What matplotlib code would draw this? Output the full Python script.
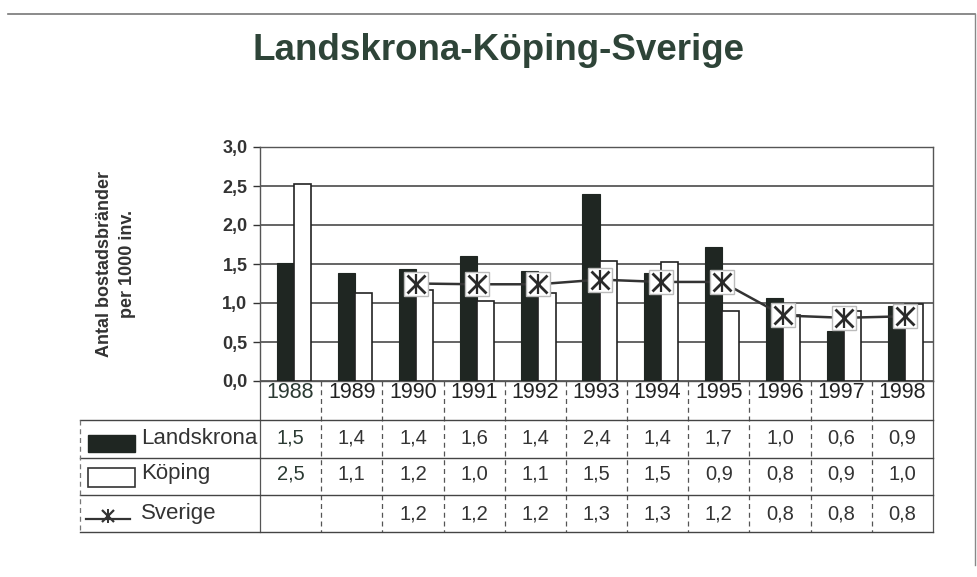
import matplotlib
matplotlib.use("Agg")
import matplotlib.pyplot as plt
from matplotlib.patches import Rectangle
from matplotlib.lines import Line2D
import matplotlib.transforms as mtransforms
import numpy as np

plt.rcParams['font.family'] = ['Liberation Sans', 'DejaVu Sans']

years = ['1988', '1989', '1990', '1991', '1992', '1993', '1994', '1995', '1996', '1997', '1998']
landskrona = [1.51, 1.38, 1.44, 1.60, 1.41, 2.40, 1.38, 1.72, 1.06, 0.64, 0.96]
koping = [2.53, 1.13, 1.17, 1.02, 1.13, 1.54, 1.52, 0.90, 0.84, 0.90, 0.99]
sverige = [None, None, 1.25, 1.24, 1.24, 1.30, 1.27, 1.27, 0.84, 0.81, 0.83]
tab_landskrona = ['1,5', '1,4', '1,4', '1,6', '1,4', '2,4', '1,4', '1,7', '1,0', '0,6', '0,9']
tab_koping = ['2,5', '1,1', '1,2', '1,0', '1,1', '1,5', '1,5', '0,9', '0,8', '0,9', '1,0']
tab_sverige = ['', '', '1,2', '1,2', '1,2', '1,3', '1,3', '1,2', '0,8', '0,8', '0,8']
yticks = [0.0, 0.5, 1.0, 1.5, 2.0, 2.5, 3.0]
ytick_labels = ['0,0', '0,5', '1,0', '1,5', '2,0', '2,5', '3,0']

W, H = 978, 577
fig = plt.figure(figsize=(W / 100, H / 100), dpi=100)
fig.patch.set_facecolor('white')

ax = fig.add_axes([260 / W, 1 - 381 / H, (933 - 260) / W, (381 - 147) / H])
x = np.arange(len(years))
bw = 0.28
off = 0.05
dark = '#1f2622'
ax.bar(x - bw / 2 + off, landskrona, width=bw, color=dark, edgecolor=dark, linewidth=0.8, zorder=3)
ax.bar(x + bw / 2 + off, koping, width=bw, color='white', edgecolor='#222222', linewidth=1.2, zorder=3)

sx = [xi + off for xi, v in zip(x, sverige) if v is not None]
sy = [v for v in sverige if v is not None]
ax.plot(sx, sy, color='#333333', lw=1.8, zorder=4)
ax.plot(sx, sy, ls='none', marker='s', ms=17, mfc='white', mec='#bbbbbb', mew=1, zorder=5)
ax.plot(sx, sy, ls='none', marker='x', ms=13, mec='#2a2a2a', mew=2, zorder=6)
ax.plot(sx, sy, ls='none', marker='|', ms=15, mec='#2a2a2a', mew=1.6, zorder=6)

ax.set_xlim(-0.5, len(years) - 0.5)
ax.set_ylim(0, 3.0)
ax.set_yticks(yticks)
ax.set_yticklabels(ytick_labels, fontsize=13, color='#333333', fontweight='bold')
ax.set_xticks([])
ax.tick_params(axis='y', length=5, width=1, color='#333333', pad=4)
ax.grid(axis='y', color='#3a3a3a', lw=1.1, zorder=0)
for s in ['top', 'right', 'left', 'bottom']:
    ax.spines[s].set_color('#555555')
    ax.spines[s].set_linewidth(1.0)

ax.set_ylabel('Antal bostadsbränder\nper 1000 inv.', fontsize=13, fontweight='bold',
              color='#333333', labelpad=62, linespacing=1.45)

fig.text(499 / W, 1 - 50 / H, 'Landskrona-Köping-Sverige', ha='center', va='center',
         fontsize=26.5, fontweight='bold', color='#2e4438')

# data table below axis
def yfrac(p):
    return (381 - p) / 234.0

trans = mtransforms.blended_transform_factory(ax.transData, ax.transAxes)
for i, yr in enumerate(years):
    ax.text(i, yfrac(393), yr, transform=trans, ha='center', va='center', fontsize=15.5,
            color='#2b3a33' if i == 0 else '#222222', clip_on=False)
    ax.text(i, yfrac(438), tab_landskrona[i], transform=trans, ha='center', va='center',
            fontsize=14.5, color='#2b3a33' if i == 0 else '#333333', clip_on=False)
    ax.text(i, yfrac(474), tab_koping[i], transform=trans, ha='center', va='center',
            fontsize=14.5, color='#2b3a33' if i == 0 else '#333333', clip_on=False)
    ax.text(i, yfrac(514), tab_sverige[i], transform=trans, ha='center', va='center',
            fontsize=14.5, color='#333333', clip_on=False)

# vertical dashed separators
for b in np.arange(-0.5, len(years) + 0.5, 1.0):
    ls = '-' if b in (-0.5, len(years) - 0.5) else (0, (4, 3))
    ax.plot([b, b], [yfrac(381), yfrac(532)], transform=trans, color='#555555', lw=0.9,
            ls=ls, clip_on=False)

# horizontal lines
left_f = (80 - 260) / 673.0
for p in (420, 458, 495, 532):
    ax.plot([left_f, 1.0], [yfrac(p), yfrac(p)], transform=ax.transAxes, color='#444444',
            lw=1.0, clip_on=False)
ax.plot([left_f, left_f], [yfrac(420), yfrac(532)], transform=ax.transAxes, color='#777777',
        lw=0.9, ls=(0, (4, 3)), clip_on=False)

# legend keys in the table
ax.add_patch(Rectangle(((88 - 260) / 673.0, yfrac(452)), 47 / 673.0, 17 / 234.0,
                       transform=ax.transAxes, facecolor=dark, edgecolor=dark, clip_on=False))
ax.add_patch(Rectangle(((88 - 260) / 673.0, yfrac(487)), 47 / 673.0, 19 / 234.0,
                       transform=ax.transAxes, facecolor='white', edgecolor='#333333', lw=1.2,
                       clip_on=False))
ax.plot([(86 - 260) / 673.0, (130 - 260) / 673.0], [yfrac(519), yfrac(519)],
        transform=ax.transAxes, color='#333333', lw=1.6, clip_on=False)
ax.plot([(108 - 260) / 673.0], [yfrac(516)], transform=ax.transAxes, marker='x', ms=9,
        mec='#333333', mew=1.6, clip_on=False, ls='none')
ax.plot([(108 - 260) / 673.0], [yfrac(516)], transform=ax.transAxes, marker='|', ms=10,
        mec='#333333', mew=1.4, clip_on=False, ls='none')
for lab, p in (('Landskrona', 438), ('Köping', 474), ('Sverige', 513)):
    ax.text((141 - 260) / 673.0, yfrac(p), lab, transform=ax.transAxes, ha='left', va='center',
            fontsize=16, color='#333333', clip_on=False)

# outer frame
fig.add_artist(Line2D([8 / W, 975 / W], [1 - 14 / H, 1 - 14 / H], color='#777777', lw=1.2))
fig.add_artist(Line2D([975 / W, 975 / W], [1 - 14 / H, 1 - 565 / H], color='#888888', lw=1.0))

fig.savefig('out.png', dpi=100, facecolor='white')
